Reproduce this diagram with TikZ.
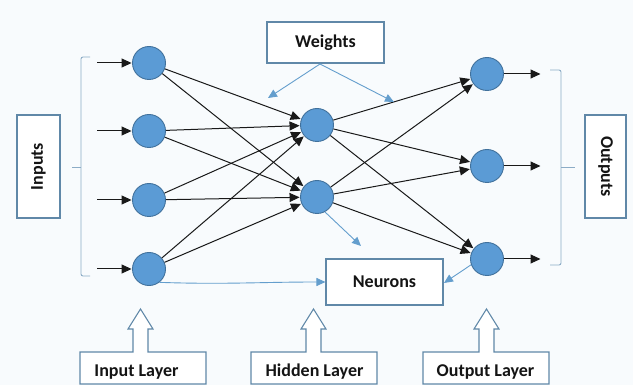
\documentclass[tikz,border=0pt]{standalone}
\usepackage{fontspec}
\setmainfont{Carlito}
\usetikzlibrary{arrows.meta}
\definecolor{bgc}{RGB}{248,251,253}
\definecolor{nfill}{RGB}{91,155,213}
\definecolor{ndraw}{RGB}{65,113,156}
\definecolor{boxc}{RGB}{96,136,168}
\definecolor{brc}{RGB}{140,172,198}
\definecolor{lblue}{RGB}{100,158,205}
\definecolor{tcol}{RGB}{20,20,20}
\tikzset{
  neuron/.style={circle,fill=nfill,draw=ndraw,line width=0.9pt,minimum size=33pt,inner sep=0pt},
  conn/.style={black!90,line width=1pt,-{Triangle[length=10pt,width=9pt]},shorten >=0.5pt},
  lbl/.style={draw=boxc,line width=1.1pt,fill=white,text=tcol,font=\bfseries\fontsize{18}{20}\selectfont,inner sep=0pt},
  txt/.style={text=tcol,font=\bfseries\fontsize{18}{20}\selectfont,inner sep=0pt},
  pointer/.style={lblue,line width=0.9pt,-{Triangle[length=9pt,width=8pt]}},
  brack/.style={brc,line width=0.9pt,rounded corners=2pt},
  callout/.style={draw=boxc,line width=1.1pt,fill=white},
}
\begin{document}
\begin{tikzpicture}[x=1pt,y=-1pt]
\fill[bgc] (0,0) rectangle (633,385);
\useasboundingbox (0,0) rectangle (633,385);
% neurons
\node[neuron] (i1) at (149,63) {};
\node[neuron] (i2) at (149,131) {};
\node[neuron] (i3) at (149,200) {};
\node[neuron] (i4) at (149,269) {};
\node[neuron] (h1) at (317,125) {};
\node[neuron] (h2) at (317,197) {};
\node[neuron] (o1) at (487,74) {};
\node[neuron] (o2) at (487,166) {};
\node[neuron] (o3) at (487,259) {};
% input/output arrow ends
\coordinate (ia1) at (97,63);
\coordinate (ia2) at (97,131);
\coordinate (ia3) at (97,200);
\coordinate (ia4) at (97,269);
\coordinate (oa1) at (541,74);
\coordinate (oa2) at (541,166);
\coordinate (oa3) at (541,259);
\foreach \k in {1,2,3,4} {\draw[conn] (ia\k) -- (i\k);}
\foreach \k in {1,2,3} {\draw[conn] (o\k) -- (oa\k);}
\foreach \a in {1,2,3,4} {\foreach \b in {1,2} {\draw[conn] (i\a) -- (h\b);}}
\foreach \a in {1,2} {\foreach \b in {1,2,3} {\draw[conn] (h\a) -- (o\b);}}
% brackets
\draw[brack] (90,57) -- (81,57) -- (81,276) -- (90,276);
\draw[brc,line width=0.9pt] (81,167) -- (72,167);
\draw[brack] (550,70) -- (561,70) -- (561,265) -- (550,265);
\draw[brc,line width=0.9pt] (561,167) -- (575,167);
% side boxes
\node[lbl,minimum width=43pt,minimum height=103pt] (inp) at (38.5,166.5) {};
\node[txt,rotate=90] (inpt) at (inp.center) {Inputs};
\node[lbl,minimum width=41pt,minimum height=103pt] (outp) at (605.5,166.5) {};
\node[txt,rotate=-90] (outpt) at (outp.center) {Outputs};
% weights
\node[lbl,minimum width=117pt,minimum height=41pt] (w) at (325.5,42.5) {Weights};
\coordinate (wb) at (320,64);
\coordinate (wl) at (268,98);
\coordinate (wr) at (394,102);
\draw[pointer] (wb) -- (wl);
\draw[pointer] (wb) -- (wr);
% neurons box
\node[lbl,minimum width=117pt,minimum height=46pt] (nb) at (384.5,282) {Neurons};
\coordinate (hp) at (361,246);
\coordinate (op) at (444,283);
\draw[pointer] (h2.-62) -- (hp);
\draw[pointer] (o3.-160) -- (op);
\draw[pointer] (i4.-52) to[out=-2,in=180] (nb.west);
% bottom callouts
\draw[callout] (80,384) -- (80,352) -- (133,352) -- (133,329) -- (128,329) -- (140.5,309) -- (153,329) -- (148,329) -- (148,352) -- (206,352) -- (206,384) -- cycle;
\node[txt] (il) at (136.5,372) {Input Layer};
\draw[callout] (251,384) -- (251,352) -- (306,352) -- (306,329) -- (301,329) -- (313.5,309) -- (326,329) -- (321,329) -- (321,352) -- (377,352) -- (377,384) -- cycle;
\node[txt] (hl) at (314.5,372) {Hidden Layer};
\draw[callout] (423,384) -- (423,352) -- (479,352) -- (479,329) -- (474,329) -- (486.5,309) -- (499,329) -- (494,329) -- (494,352) -- (549,352) -- (549,384) -- cycle;
\node[txt] (ol) at (485.5,372) {Output Layer};
\end{tikzpicture}
\end{document}
